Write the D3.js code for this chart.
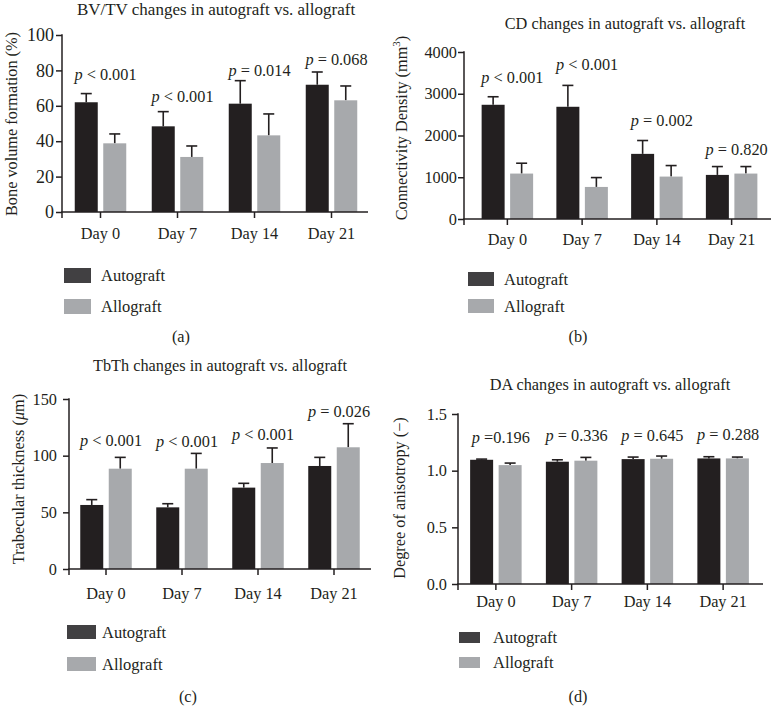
<!DOCTYPE html>
<html>
<head>
<meta charset="utf-8">
<script src="https://cdn.jsdelivr.net/npm/d3@7"></script>
<style>
  html, body { margin: 0; padding: 0; background: #fff; }
  svg { display: block; }
  text { font-family: "Liberation Serif", "Times New Roman", serif; fill: #231f20; }
</style>
</head>
<body>
<svg id="chart" width="774" height="720"></svg>
<script>
// ---------------- DATA ----------------
const days = ["Day 0", "Day 7", "Day 14", "Day 21"];
const seriesNames = ["Autograft", "Allograft"];

// (a) BV/TV (%)
const bvtvAuto    = [62.0, 48.4, 61.2, 71.9];
const bvtvAutoErr = [4.9, 8.3, 13.0, 7.2];
const bvtvAllo    = [38.8, 31.1, 43.3, 63.1];
const bvtvAlloErr = [5.3, 6.2, 12.1, 8.1];
const bvtvP       = ["< 0.001", "< 0.001", "= 0.014", "= 0.068"];
const bvtvPY      = [74.4, 62.2, 77.0, 83.0];
const bvtvTicks   = [0, 20, 40, 60, 80, 100];

// (b) Connectivity density (mm^3)
const cdAuto    = [2736, 2688, 1560, 1056];
const cdAutoErr = [192, 512, 320, 200];
const cdAllo    = [1088, 768, 1016, 1088];
const cdAlloErr = [248, 224, 264, 168];
const cdP       = ["< 0.001", "< 0.001", "= 0.002", "= 0.820"];
const cdPY      = [3256, 3560, 2232, 1536];
const cdTicks   = [0, 1000, 2000, 3000, 4000];

// (c) Trabecular thickness (um)
const tbAuto    = [56.5, 54.4, 71.8, 90.9];
const tbAutoErr = [4.7, 3.2, 3.8, 7.6];
const tbAllo    = [88.5, 88.5, 93.5, 107.4];
const tbAlloErr = [10.0, 13.5, 13.3, 20.8];
const tbP       = ["< 0.001", "< 0.001", "< 0.001", "= 0.026"];
const tbPY      = [108.8, 107.6, 114.1, 134.1];
const tbTicks   = [0, 50, 100, 150];

// (d) Degree of anisotropy (-)
const daAuto    = [1.096, 1.079, 1.102, 1.108];
const daAutoErr = [0.006, 0.017, 0.018, 0.015];
const daAllo    = [1.049, 1.088, 1.105, 1.108];
const daAlloErr = [0.018, 0.029, 0.024, 0.012];
const daP       = ["=0.196", "= 0.336", "= 0.645", "= 0.288"];
const daPY      = [1.244, 1.264, 1.264, 1.273];
const daTicks   = [0, 0.5, 1.0, 1.5];

// ---------------- STYLE ----------------
const BLACK = "#231f20";
const GRAY = "#a7a9ac";
const LEG_DARK = "#414042";
const BAR_W = 23, BAR_GAP = 5.5, CAP_W = 11;

const svg = d3.select("#chart");

const panels = [
  {
    auto: bvtvAuto, autoErr: bvtvAutoErr, allo: bvtvAllo, alloErr: bvtvAlloErr,
    p: bvtvP, pY: bvtvPY, ticks: bvtvTicks, fmt: d3.format("d"),
    title: "BV/TV changes in autograft vs. allograft", titleX: 216, titleY: 15, titleSize: 17,
    yDomain: [0, 100], yRange: [212, 35], ax: 62, xEnd: 368, xRange: [62, 370],
    tickSize: 18, tickPad: 2, dayBase: 238.5,
    yLabel: [{t: "Bone volume formation (%)"}], yLabelX: 17, yLabelY: 124,
    leg: {x: 64, y1: 268, y2: 299, w: 27, h: 15, tx: 101},
    cap: "(a)", capX: 181, capY: 342
  },
  {
    auto: cdAuto, autoErr: cdAutoErr, allo: cdAllo, alloErr: cdAlloErr,
    p: cdP, pY: cdPY, ticks: cdTicks, fmt: d3.format("d"),
    title: "CD changes in autograft vs. allograft", titleX: 625, titleY: 29, titleSize: 16.3,
    yDomain: [0, 4000], yRange: [219, 52], ax: 464, xEnd: 771, xRange: [470, 769],
    tickSize: 16.3, tickPad: 1, dayBase: 245,
    yLabel: [{t: "Connectivity Density (mm"}, {t: "3", sup: true}, {t: ")"}], yLabelX: 407, yLabelY: 128,
    leg: {x: 468, y1: 272, y2: 299, w: 26, h: 14, tx: 504},
    cap: "(b)", capX: 578, capY: 342
  },
  {
    auto: tbAuto, autoErr: tbAutoErr, allo: tbAllo, alloErr: tbAlloErr,
    p: tbP, pY: tbPY, ticks: tbTicks, fmt: d3.format("d"),
    title: "TbTh changes in autograft vs. allograft", titleX: 220, titleY: 371, titleSize: 16.3,
    yDomain: [0, 150], yRange: [569, 399], ax: 69, xEnd: 371, xRange: [68, 372],
    tickSize: 16.3, tickPad: 6, dayBase: 599,
    yLabel: [{t: "Trabecular thickness ("}, {t: "μ", it: true}, {t: "m)"}], yLabelX: 24, yLabelY: 479,
    leg: {x: 67, y1: 625, y2: 657, w: 29, h: 14, tx: 102},
    cap: "(c)", capX: 188, capY: 702
  },
  {
    auto: daAuto, autoErr: daAutoErr, allo: daAllo, alloErr: daAlloErr,
    p: daP, pY: daPY, ticks: daTicks, fmt: d3.format(".1f"),
    title: "DA changes in autograft vs. allograft", titleX: 610, titleY: 390, titleSize: 16.3,
    yDomain: [0, 1.5], yRange: [584, 414], ax: 458, xEnd: 763, xRange: [458, 761],
    tickSize: 16.3, tickPad: 5, dayBase: 607,
    yLabel: [{t: "Degree of anisotropy (−)"}], yLabelX: 405, yLabelY: 498,
    leg: {x: 459, y1: 632, y2: 657, w: 21, h: 11, tx: 493},
    cap: "(d)", capX: 578, capY: 702
  }
];

function drawPanel(c) {
  const g = svg.append("g");
  const x = d3.scaleBand().domain(days).range(c.xRange);
  const y = d3.scaleLinear().domain(c.yDomain).range(c.yRange);

  // title
  g.append("text").attr("x", c.titleX).attr("y", c.titleY)
    .attr("text-anchor", "middle").attr("font-size", c.titleSize).text(c.title);

  // bars
  const rows = days.map((d, i) => ({
    day: d, i,
    vals: [
      {s: 0, v: c.auto[i], e: c.autoErr[i]},
      {s: 1, v: c.allo[i], e: c.alloErr[i]}
    ]
  }));
  const cx = d => x(d) + x.bandwidth() / 2;
  const barX = (d, s) => s === 0 ? cx(d) - BAR_GAP / 2 - BAR_W : cx(d) + BAR_GAP / 2;

  rows.forEach(r => {
    r.vals.forEach(b => {
      const bx = barX(r.day, b.s);
      const mid = bx + BAR_W / 2;
      // error bar (upper only)
      g.append("line").attr("x1", mid).attr("x2", mid)
        .attr("y1", y(b.v)).attr("y2", y(b.v + b.e))
        .attr("stroke", BLACK).attr("stroke-width", 1.6);
      g.append("line").attr("x1", mid - CAP_W / 2).attr("x2", mid + CAP_W / 2)
        .attr("y1", y(b.v + b.e)).attr("y2", y(b.v + b.e))
        .attr("stroke", BLACK).attr("stroke-width", 1.6);
      g.append("rect").attr("x", bx).attr("width", BAR_W)
        .attr("y", y(b.v)).attr("height", y(0) - y(b.v))
        .attr("fill", b.s === 0 ? BLACK : GRAY);
    });
    // p label
    const t = g.append("text").attr("x", cx(r.day) + 5).attr("y", y(c.pY[r.i]))
      .attr("text-anchor", "middle").attr("font-size", 16.3);
    t.append("tspan").attr("font-style", "italic").text("p");
    t.append("tspan").text(" " + c.p[r.i]);
  });

  // y axis
  const ya = g.append("g").attr("transform", `translate(${c.ax},0)`)
    .call(d3.axisLeft(y).tickValues(c.ticks).tickFormat(c.fmt).tickSize(6).tickPadding(c.tickPad));
  ya.select(".domain").remove();
  ya.selectAll("line").attr("stroke", BLACK).attr("stroke-width", 1.5);
  ya.selectAll("text").attr("font-size", c.tickSize).attr("fill", BLACK)
    .style("font-family", '"Liberation Serif", "Times New Roman", serif');
  g.append("line").attr("x1", c.ax).attr("x2", c.ax)
    .attr("y1", y(c.yDomain[1]) - 0.75).attr("y2", y(0) + 6)
    .attr("stroke", BLACK).attr("stroke-width", 1.5);

  // x axis
  const labelPad = c.dayBase - y(0) - 6 - 0.71 * 16.3;
  const xa = g.append("g").attr("transform", `translate(0,${y(0)})`)
    .call(d3.axisBottom(x).tickSize(6).tickSizeOuter(0).tickPadding(labelPad));
  xa.select(".domain").remove();
  xa.selectAll("line").attr("stroke", BLACK).attr("stroke-width", 1.5);
  xa.selectAll("text").attr("font-size", 16.3).attr("fill", BLACK)
    .style("font-family", '"Liberation Serif", "Times New Roman", serif');
  g.append("line").attr("x1", c.ax - 0.75).attr("x2", c.xEnd)
    .attr("y1", y(0)).attr("y2", y(0))
    .attr("stroke", BLACK).attr("stroke-width", 1.5);

  // y label
  const yl = g.append("text")
    .attr("transform", `translate(${c.yLabelX},${c.yLabelY}) rotate(-90)`)
    .attr("text-anchor", "middle").attr("font-size", 16.3);
  c.yLabel.forEach(part => {
    const ts = yl.append("tspan").text(part.t);
    if (part.it) ts.attr("font-style", "italic");
    if (part.sup) ts.attr("font-size", 11).attr("dy", -7);
    else if (part.t === ")" ) ts.attr("dy", 7);
  });

  // legend
  const L = c.leg;
  [[L.y1, LEG_DARK, seriesNames[0]], [L.y2, GRAY, seriesNames[1]]].forEach(([yy, col, name]) => {
    g.append("rect").attr("x", L.x).attr("y", yy).attr("width", L.w).attr("height", L.h).attr("fill", col);
    g.append("text").attr("x", L.tx).attr("y", yy + L.h / 2 + 5.5).attr("font-size", 16.5).text(name);
  });

  // caption
  g.append("text").attr("x", c.capX).attr("y", c.capY).attr("text-anchor", "middle")
    .attr("font-size", 16.3).text(c.cap);
}

panels.forEach(drawPanel);
</script>
</body>
</html>
